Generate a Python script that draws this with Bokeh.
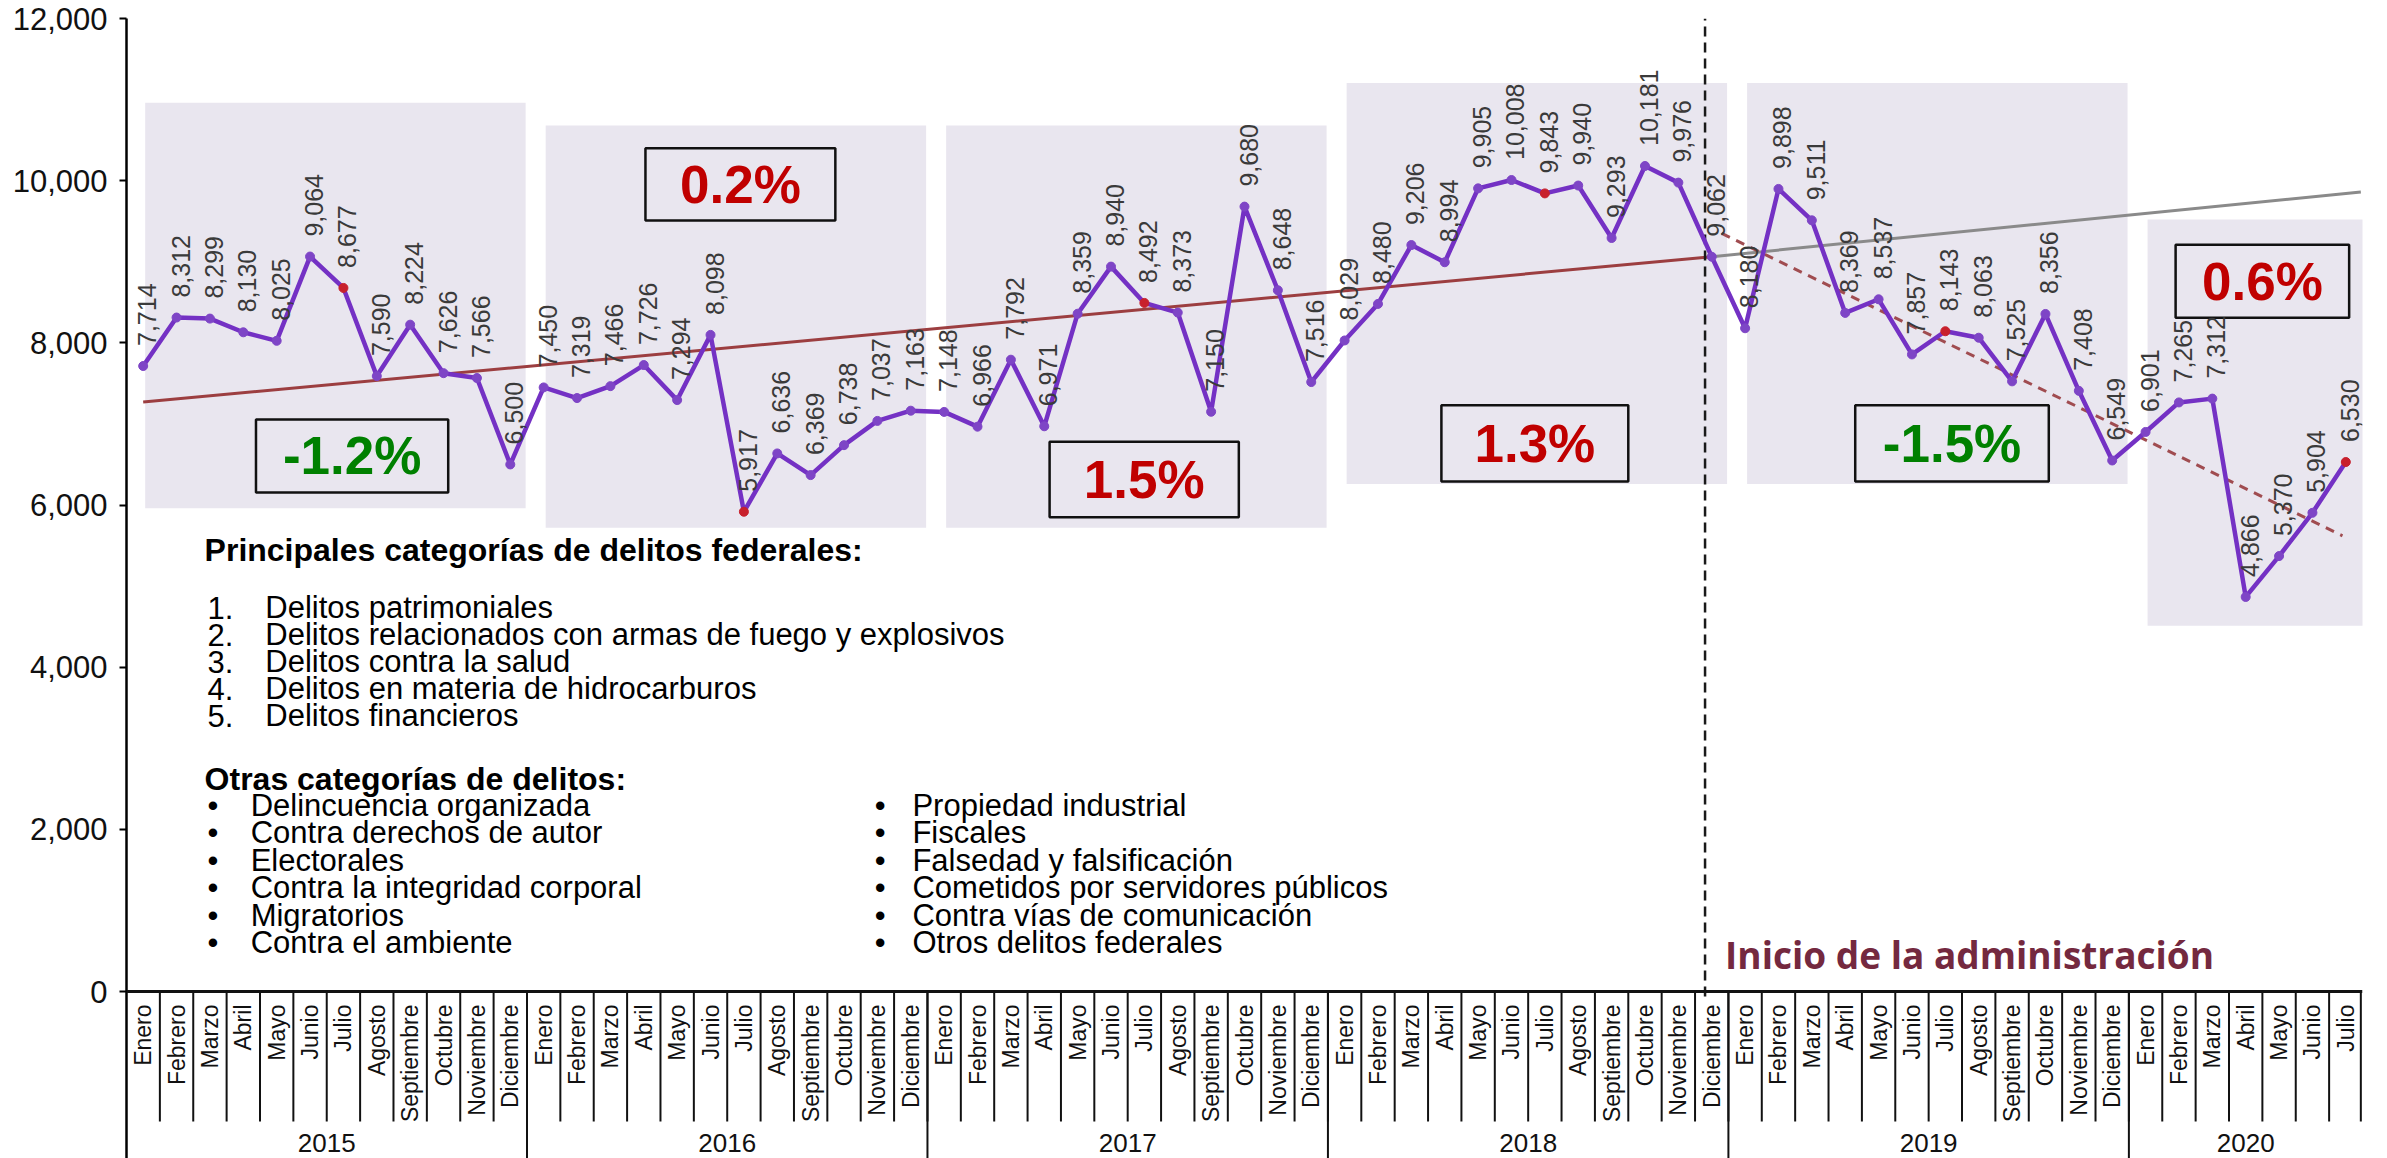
import math
from bokeh.plotting import figure
from bokeh.models import ColumnDataSource, Range1d, FixedTicker, NumeralTickFormatter, Span
from bokeh.embed import file_html
from bokeh.resources import INLINE
from bokeh.core.properties import value

# ---------------- data ----------------
months = ["Enero", "Febrero", "Marzo", "Abril", "Mayo", "Junio", "Julio",
          "Agosto", "Septiembre", "Octubre", "Noviembre", "Diciembre"]
years = ["2015", "2016", "2017", "2018", "2019", "2020"]
v2015 = [7714, 8312, 8299, 8130, 8025, 9064, 8677, 7590, 8224, 7626, 7566, 6500]
v2016 = [7450, 7319, 7466, 7726, 7294, 8098, 5917, 6636, 6369, 6738, 7037, 7163]
v2017 = [7148, 6966, 7792, 6971, 8359, 8940, 8492, 8373, 7150, 9680, 8648, 7516]
v2018 = [8029, 8480, 9206, 8994, 9905, 10008, 9843, 9940, 9293, 10181, 9976, 9062]
v2019 = [8180, 9898, 9511, 8369, 8537, 7857, 8143, 8063, 7525, 8356, 7408, 6549]
v2020 = [6901, 7265, 7312, 4866, 5370, 5904, 6530]
yearly_values = [v2015, v2016, v2017, v2018, v2019, v2020]
growth_labels = ["-1.2%", "0.2%", "1.5%", "1.3%", "-1.5%", "0.6%"]
y_ticks = [0, 2000, 4000, 6000, 8000, 10000, 12000]

# trend lines (month index, value)
trend_prev_x = [0, 47]
trend_prev_y = [7270, 9062]
trend_proj_x = [47, 66.45]
trend_proj_y = [9062, 9860]
trend_new_x = [47.3, 65.9]
trend_new_y = [9350, 5620]
admin_start_x = 46.8

principales_title = "Principales categorías de delitos federales:"
principales = ["Delitos patrimoniales",
               "Delitos relacionados con armas de fuego y explosivos",
               "Delitos contra la salud",
               "Delitos en materia de hidrocarburos",
               "Delitos financieros"]
otras_title = "Otras categorías de delitos:"
otras_col1 = ["Delincuencia organizada", "Contra derechos de autor", "Electorales",
              "Contra la integridad corporal", "Migratorios", "Contra el ambiente"]
otras_col2 = ["Propiedad industrial", "Fiscales", "Falsedad y falsificación",
              "Cometidos por servidores públicos", "Contra vías de comunicación",
              "Otros delitos federales"]

# ---------------- derived ----------------
xs, ys, labels, mcolors, mon_names = [], [], [], [], []
for yi, vals in enumerate(yearly_values):
    for mi, v in enumerate(vals):
        xs.append(12 * yi + mi)
        ys.append(v)
        labels.append(f"{v:,}")
        mcolors.append("#C8202C" if months[mi] == "Julio" else "#7E45C6")
        mon_names.append(months[mi])
n = len(xs)

# ---------------- styling / layout constants ----------------
FONT = value("Liberation Sans")
PX = 973.0 / 12000.0              # pixels per unit
def dv(px):                       # pixel distance -> data units
    return px / PX

def yv(py):                       # page pixel row -> data value
    return (991 - py) / PX

Y_BOTTOM = -dv(167)
fig = figure(width=2378, height=1158,
             x_range=Range1d(-0.5, 66.5), y_range=Range1d(Y_BOTTOM, 12000),
             output_backend="svg", toolbar_location=None, x_axis_location=None,
             min_border_left=126, min_border_right=16, min_border_top=18,
             min_border_bottom=0)
fig.grid.visible = False
fig.outline_line_color = None
fig.background_fill_color = "white"

ax = fig.yaxis[0]
ax.ticker = FixedTicker(ticks=y_ticks)
ax.formatter = NumeralTickFormatter(format="0,0")
ax.major_label_text_font = "Liberation Sans"
ax.major_label_text_font_size = "31px"
ax.major_label_text_color = "#111111"
ax.major_tick_out = 7
ax.major_tick_in = 0
ax.minor_tick_out = 0
ax.minor_tick_in = 0
ax.axis_line_width = 2.5
ax.major_tick_line_width = 2
ax.major_label_standoff = 12

# year shaded regions
reg_top = [10960, 10680, 10680, 11205, 11205, 9520]
reg_bot = [5960, 5720, 5720, 6260, 6260, 4510]
reg_left = [12 * i + 0.06 for i in range(len(years))]
reg_right = [12 * i + 11.46 for i in range(len(years) - 1)] + [66.75]
fig.quad(left=reg_left, right=reg_right, top=reg_top, bottom=reg_bot,
         fill_color="#E9E6EF", line_color=None)

# growth boxes
box_l = [3.38, 15.05, 27.16, 38.9, 51.3, 60.9]
box_r = [9.14, 20.74, 32.83, 44.5, 57.1, 66.1]
box_t = [7055, 10400, 6780, 7230, 7230, 9210]
box_b = [6155, 9510, 5850, 6290, 6290, 8310]
fig.quad(left=box_l, right=box_r, top=box_t, bottom=box_b,
         fill_color="#E9E6EF", line_color="#111111", line_width=2.5)
g_colors = ["#008000" if g.startswith("-") else "#C00000" for g in growth_labels]
fig.text(x=[(a + b) / 2 for a, b in zip(box_l, box_r)],
         y=[(a + b) / 2 for a, b in zip(box_t, box_b)],
         text=growth_labels, text_color=g_colors, text_font=FONT,
         text_font_style="bold", text_font_size="53px",
         text_align="center", text_baseline="middle")

# axis line at 0 and separators
fig.add_layout(Span(location=0, dimension="width", line_color="#111111", line_width=3))
sep_x = [i + 0.5 for i in range(n - 1)] + [n - 0.55]
year_bounds = [12 * i - 0.5 for i in range(1, len(years))]
fig.segment(x0=sep_x, y0=[0] * len(sep_x), x1=sep_x, y1=[-dv(130)] * len(sep_x),
            line_color="#111111", line_width=2)
fig.segment(x0=year_bounds, y0=[0] * len(year_bounds), x1=year_bounds,
            y1=[Y_BOTTOM] * len(year_bounds), line_color="#111111", line_width=2)

# month labels
fig.text(x=xs, y=[-dv(13)] * n, text=mon_names, angle=math.pi / 2,
         text_align="right", text_baseline="middle", text_font=FONT,
         text_font_size="23px", text_color="#111111")
# year labels
year_x = []
for yi, vals in enumerate(yearly_values):
    year_x.append(12 * yi + (len(vals) - 1) / 2)
fig.text(x=year_x, y=[-dv(151)] * len(years), text=years, text_align="center",
         text_baseline="middle", text_font=FONT, text_font_size="26px",
         text_color="#111111")

# trend lines
fig.line(trend_prev_x, trend_prev_y, line_color="#9C3E40", line_width=3)
fig.line(trend_proj_x, trend_proj_y, line_color="#8A8A8A", line_width=3)
fig.line(trend_new_x, trend_new_y, line_color="#A04C50", line_width=3, line_dash="9 7")

# start of administration
fig.segment(x0=[admin_start_x], y0=[-dv(5)], x1=[admin_start_x], y1=[12000],
            line_color="#1A1A1A", line_width=2.5, line_dash="10 6")
fig.text(x=[47.4], y=[yv(954)], text=["Inicio de la administración"],
         text_font=value("Open Sans"), text_font_style="bold", text_font_size="37px",
         text_color="#74293F", text_align="left", text_baseline="middle")

# main series
src = ColumnDataSource(dict(x=xs, y=ys, label=labels, color=mcolors))
fig.line("x", "y", source=src, line_color="#7431C4", line_width=4.5)
fig.scatter("x", "y", source=src, size=9, fill_color="color", line_color="color")
fig.text("x", "y", text="label", source=src, angle=math.pi / 2,
         text_align="left", text_baseline="middle", x_offset=4, y_offset=-20,
         text_font=FONT, text_font_size="25px", text_color="#3A3A3A")

# text block
fig.text(x=[1.84], y=[yv(549)], text=[principales_title], text_font=FONT,
         text_font_style="bold", text_font_size="32px", text_color="#000000",
         text_baseline="middle")
item_y = [yv(607 + 27 * k) for k in range(len(principales))]
fig.text(x=[1.93] * len(principales), y=item_y,
         text=[f"{k + 1}." for k in range(len(principales))],
         text_font=FONT, text_font_size="31px", text_color="#000000",
         text_baseline="middle")
fig.text(x=[3.66] * len(principales), y=item_y, text=principales,
         text_font=FONT, text_font_size="31px", text_color="#000000",
         text_baseline="middle")
fig.text(x=[1.84], y=[yv(778)], text=[otras_title], text_font=FONT,
         text_font_style="bold", text_font_size="32px", text_color="#000000",
         text_baseline="middle")
bul_y = [yv(805 + 27.4 * k) for k in range(len(otras_col1))]
fig.text(x=[1.93] * len(otras_col1), y=bul_y, text=["•"] * len(otras_col1),
         text_font=FONT, text_font_size="31px", text_color="#000000",
         text_baseline="middle")
fig.text(x=[3.22] * len(otras_col1), y=bul_y, text=otras_col1,
         text_font=FONT, text_font_size="31px", text_color="#000000",
         text_baseline="middle")
fig.text(x=[21.92] * len(otras_col2), y=bul_y, text=["•"] * len(otras_col2),
         text_font=FONT, text_font_size="31px", text_color="#000000",
         text_baseline="middle")
fig.text(x=[23.05] * len(otras_col2), y=bul_y, text=otras_col2,
         text_font=FONT, text_font_size="31px", text_color="#000000",
         text_baseline="middle")

open("out.html", "w").write(file_html(fig, INLINE))
